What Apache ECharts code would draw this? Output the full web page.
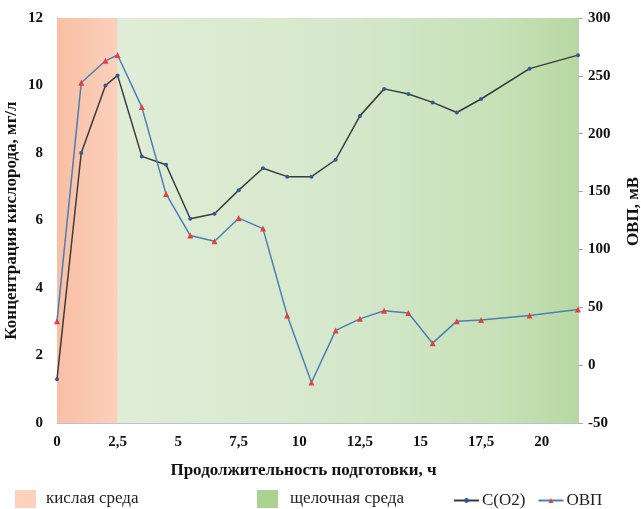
<!DOCTYPE html>
<html>
<head>
<meta charset="utf-8">
<script src="https://cdn.jsdelivr.net/npm/echarts@6/dist/echarts.min.js"></script>
<style>
html, body { margin: 0; padding: 0; background: #fff; }
#main { width: 641px; height: 509px; }
</style>
</head>
<body>
<div id="main"></div>
<script>
var chart = echarts.init(document.getElementById('main'));

// время подготовки, ч
var hours = [0, 1, 2, 2.5, 3.5, 4.5, 5.5, 6.5, 7.5, 8.5, 9.5, 10.5, 11.5, 12.5, 13.5, 14.5, 15.5, 16.5, 17.5, 19.5, 21.5];
// концентрация кислорода, мг/л
var oxygen = [1.3, 8.0, 10.0, 10.3, 7.9, 7.65, 6.05, 6.2, 6.9, 7.55, 7.3, 7.3, 7.8, 9.1, 9.9, 9.75, 9.5, 9.2, 9.6, 10.5, 10.9];
// ОВП, мВ
var orp = [38, 244, 263, 268, 223, 148, 112, 107, 127, 118, 43, -15, 30, 40, 47, 45, 19, 38, 39, 43, 48];

var acidZone = [0, 2.5];
var alkaliZone = [2.5, 21.5];

var serif = 'Liberation Serif';

function pairs(xs, ys) {
  var out = [];
  for (var i = 0; i < xs.length; i++) out.push([xs[i], ys[i]]);
  return out;
}

var option = {
  backgroundColor: '#fff',
  animation: false,
  grid: { left: 57, right: 63, top: 18, bottom: 86, outerBoundsMode: 'none', containLabel: false },
  legend: [
    {
      left: 15, top: 490, itemWidth: 21, itemHeight: 18, padding: 0,
      data: [{ name: 'кислая среда', icon: 'rect', itemStyle: { color: '#fcd2bd' } }],
      textStyle: { fontFamily: serif, fontSize: 17, color: '#222', padding: [0, 0, 0, 5] }
    },
    {
      left: 257, top: 490, itemWidth: 21, itemHeight: 18, padding: 0,
      data: [{ name: 'щелочная среда', icon: 'rect', itemStyle: { color: '#acd292' } }],
      textStyle: { fontFamily: serif, fontSize: 17, color: '#222', padding: [0, 0, 0, 7] }
    },
    {
      left: 453, top: 492, itemWidth: 25, itemHeight: 6, itemGap: 12, padding: 0,
      data: ['C(O2)', 'ОВП'],
      textStyle: { fontFamily: serif, fontSize: 17, color: '#222', padding: [0, 0, 0, -2] }
    }
  ],
  xAxis: {
    type: 'value',
    min: 0, max: 21.5, interval: 2.5,
    name: 'Продолжительность подготовки, ч',
    nameLocation: 'middle', nameGap: 39,
    nameTextStyle: { fontFamily: serif, fontSize: 17, fontWeight: 'bold', color: '#111', padding: [0, 28, 0, 0] },
    axisLine: { show: true, lineStyle: { color: '#b8c4d0' } },
    axisTick: { show: false },
    axisLabel: {
      margin: 12, fontFamily: serif, fontSize: 15, fontWeight: 'bold', color: '#111',
      showMaxLabel: false,
      formatter: function (v) { return v > 20 ? '' : String(v).replace('.', ','); }
    },
    splitLine: { show: true, lineStyle: { color: 'rgba(150,170,170,0.3)' } }
  },
  yAxis: [
    {
      type: 'value', min: 0, max: 12, interval: 2,
      name: 'Концентрация кислорода, мг/л',
      nameLocation: 'middle', nameGap: 37, nameRotate: 90, nameMoveOverlap: false,
      nameTextStyle: { fontFamily: serif, fontSize: 17, fontWeight: 'bold', color: '#111' },
      axisLine: { show: true, lineStyle: { color: '#b8c4d0' } },
      axisTick: { show: false },
      axisLabel: { margin: 14, fontFamily: serif, fontSize: 15, fontWeight: 'bold', color: '#111' },
      splitLine: { show: true, lineStyle: { color: 'rgba(150,170,200,0.35)' } }
    },
    {
      type: 'value', min: -50, max: 300, interval: 50,
      position: 'right',
      name: 'ОВП, мВ',
      nameLocation: 'middle', nameGap: 47, nameRotate: 90,
      nameTextStyle: { fontFamily: serif, fontSize: 17, fontWeight: 'bold', color: '#111', padding: [0, 0, 0, 18] },
      axisLine: { show: true, lineStyle: { color: '#c8c8c8' } },
      axisTick: { show: true, length: 5, lineStyle: { color: '#aaa' } },
      axisLabel: { margin: 10, fontFamily: serif, fontSize: 15, fontWeight: 'bold', color: '#111' },
      splitLine: { show: false }
    }
  ],
  series: [
    {
      name: 'кислая среда', type: 'line', data: [], z: 0,
      color: '#fcd2bd',
      markArea: {
        silent: true,
        itemStyle: {
          color: new echarts.graphic.LinearGradient(0, 0, 1, 0, [
            { offset: 0, color: '#f9bfa4' },
            { offset: 1, color: '#fcd0bc' }
          ])
        },
        data: [[{ xAxis: acidZone[0] }, { xAxis: acidZone[1] }]]
      }
    },
    {
      name: 'щелочная среда', type: 'line', data: [], z: 0,
      color: '#acd292',
      markArea: {
        silent: true,
        itemStyle: {
          color: new echarts.graphic.LinearGradient(0, 0, 1, 0, [
            { offset: 0, color: '#e0edd7' },
            { offset: 0.5, color: '#d5e8cb' },
            { offset: 0.85, color: '#c6e0b6' },
            { offset: 1, color: '#b7d8a2' }
          ])
        },
        data: [[{ xAxis: alkaliZone[0] }, { xAxis: alkaliZone[1] }]]
      }
    },
    {
      name: 'C(O2)', type: 'line', yAxisIndex: 0,
      data: pairs(hours, oxygen),
      symbol: 'circle', symbolSize: 4,
      lineStyle: { color: '#3b3b3b', width: 1.5 },
      itemStyle: { color: '#2e5a9a' },
      z: 3
    },
    {
      name: 'ОВП', type: 'line', yAxisIndex: 1,
      data: pairs(hours, orp),
      symbol: 'triangle', symbolSize: 6,
      lineStyle: { color: '#4a7fb5', width: 1.5 },
      itemStyle: { color: '#e5403e' },
      z: 4
    }
  ]
};

chart.setOption(option);
</script>
</body>
</html>
